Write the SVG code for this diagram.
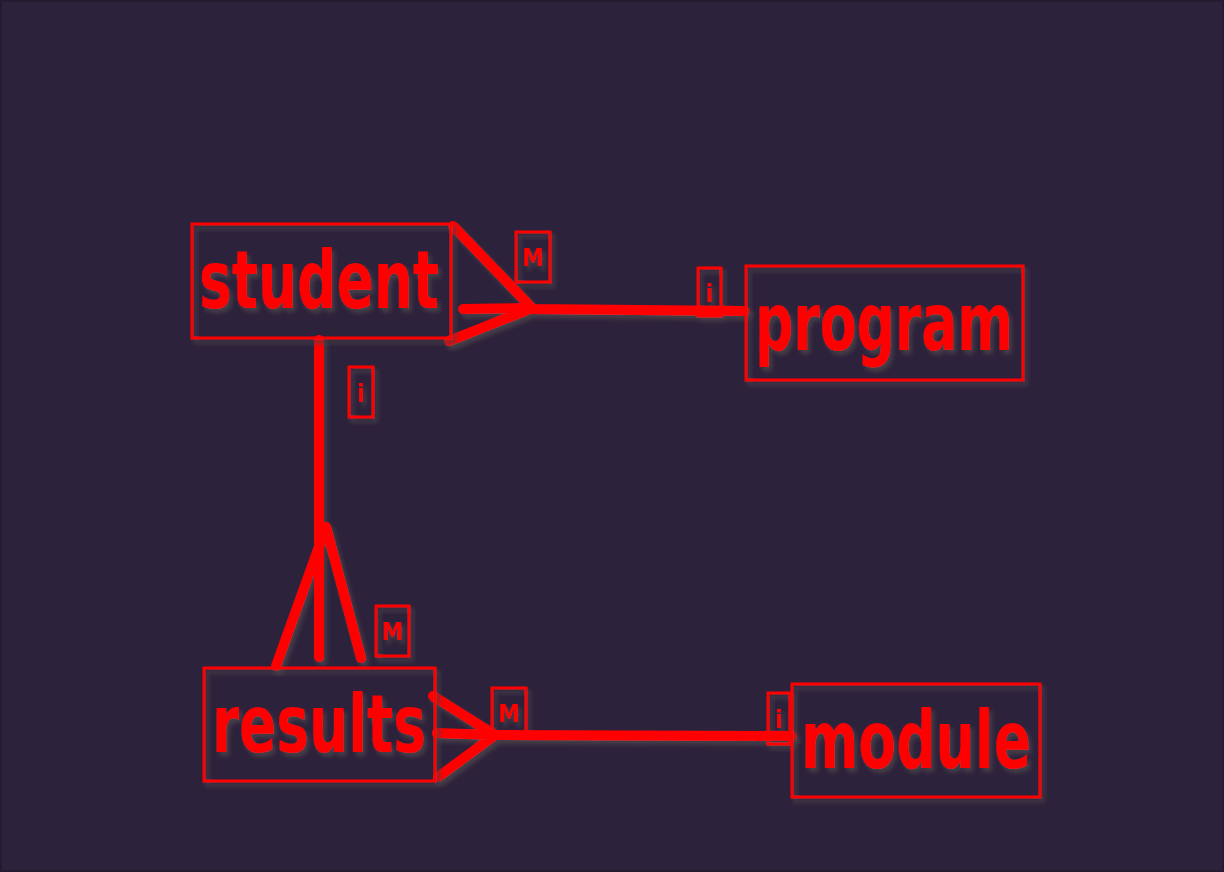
<svg xmlns="http://www.w3.org/2000/svg" width="1224" height="872" viewBox="0 0 1224 872">
<defs>
<filter id="sh" x="-20%" y="-20%" width="140%" height="140%">
<feDropShadow dx="3" dy="4" stdDeviation="2" flood-color="#4a4048" flood-opacity="0.9"/>
</filter>
<style>
.box{fill:none;stroke:#ff0000;stroke-width:3}
.lbl{fill:none;stroke:#ff0000;stroke-width:3}
.big{font-family:"Liberation Sans Narrow","DejaVu Sans Condensed","Liberation Sans",sans-serif;font-stretch:condensed;font-weight:bold;font-size:80px;fill:#ff0000}
.sm{font-family:"Liberation Sans Narrow","DejaVu Sans Condensed","Liberation Sans",sans-serif;font-stretch:condensed;font-weight:bold;font-size:24px;fill:#ff0000;text-anchor:middle}
.con{fill:none;stroke:#ff0000;stroke-width:10;stroke-linecap:round;stroke-linejoin:round}
</style>
</defs>
<rect x="0" y="0" width="1224" height="872" fill="#2d223b"/>
<rect x="1" y="1" width="1222" height="870" fill="none" stroke="#241b30" stroke-width="2"/>
<g id="connectors" filter="url(#sh)">
<path class="con" d="M453,226 L532,308 M463,309 L532,308 M449,341 L532,308 M532,309 L745,311"/>
<path class="con" d="M319,340 L319,657 M326,527 L276,666 M326,527 L361,658"/>
<path class="con" d="M433,696 L495,735 M437,733 L495,735 M438,777 L495,735 M495,735 L792,736"/>
<g>
<rect class="lbl" x="516" y="232" width="34" height="50"/><text class="sm" x="533" y="266">M</text>
<rect class="lbl" x="698" y="268" width="23" height="48"/><text class="sm" x="709.5" y="302">i</text>
<rect class="lbl" x="349" y="367" width="24" height="50"/><text class="sm" x="361" y="402">i</text>
<rect class="lbl" x="376" y="606" width="33" height="50"/><text class="sm" x="392.5" y="640">M</text>
<rect class="lbl" x="492" y="688" width="34" height="49"/><text class="sm" x="509" y="722">M</text>
<rect class="lbl" x="768" y="693" width="22" height="51"/><text class="sm" x="779" y="728">i</text>
</g>
</g>
<g id="student" filter="url(#sh)">
<rect class="box" x="192" y="224" width="259" height="114"/>
<text class="big" x="199" y="308" textLength="240" lengthAdjust="spacingAndGlyphs">student</text>
</g>
<g id="program" filter="url(#sh)">
<rect class="box" x="746" y="266" width="277" height="114"/>
<text class="big" x="755" y="350" textLength="258" lengthAdjust="spacingAndGlyphs">program</text>
</g>
<g id="results" filter="url(#sh)">
<rect class="box" x="204" y="668" width="231" height="113"/>
<text class="big" x="212" y="752" textLength="214" lengthAdjust="spacingAndGlyphs">results</text>
</g>
<g id="module" filter="url(#sh)">
<rect class="box" x="792" y="684" width="248" height="113"/>
<text class="big" x="801" y="768" textLength="230" lengthAdjust="spacingAndGlyphs">module</text>
</g>
</svg>
